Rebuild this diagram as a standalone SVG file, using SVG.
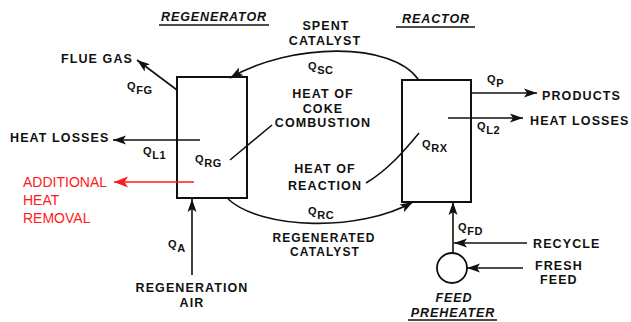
<svg xmlns="http://www.w3.org/2000/svg" width="631" height="322" viewBox="0 0 631 322">
<style>
.t{font-family:"Liberation Sans",Arial,sans-serif;font-weight:bold;font-size:12.5px;letter-spacing:1.1px;fill:#111}
.ti{font-family:"Liberation Sans",Arial,sans-serif;font-weight:bold;font-style:italic;font-size:12.5px;letter-spacing:0.9px;fill:#111}
.q{font-family:"Liberation Sans",Arial,sans-serif;font-weight:bold;font-size:11px;letter-spacing:0.6px;fill:#111}
.r{font-family:"Liberation Sans",Arial,sans-serif;font-size:14px;fill:#ff1a1a}
.box{fill:#fff;stroke:#111;stroke-width:2}
.ln{fill:none;stroke:#111;stroke-width:1.6}
.ar{fill:none;stroke:#111;stroke-width:1.6;marker-end:url(#ah)}
.ul{stroke:#111;stroke-width:1.6}
</style>
<defs>
<marker id="ah" markerUnits="userSpaceOnUse" markerWidth="14" markerHeight="10" refX="13" refY="5" orient="auto">
<path d="M0,0.5 L13,5 L0,9.5 L3,5 Z" fill="#111"/>
</marker>
<marker id="ahr" markerUnits="userSpaceOnUse" markerWidth="15" markerHeight="12" refX="14" refY="6" orient="auto">
<path d="M0,0.5 L14,6 L0,11.5 L3.5,6 Z" fill="#ff1a1a"/>
</marker>
</defs>

<g id="titles">
<text class="ti" x="214" y="21" text-anchor="middle">REGENERATOR</text>
<line class="ul" x1="159" y1="25" x2="269" y2="25"/>
<text class="ti" x="436" y="23" text-anchor="middle">REACTOR</text>
<line class="ul" x1="396" y1="27" x2="475" y2="27"/>
</g>

<g id="regenerator">
<rect class="box" x="177" y="77" width="70" height="121"/>
<text class="q" x="195" y="163">Q<tspan dy="4">RG</tspan></text>
</g>

<g id="reactor">
<rect class="box" x="402" y="80" width="69" height="122"/>
<text class="q" x="422" y="148">Q<tspan dy="4">RX</tspan></text>
</g>

<g id="feed-preheater">
<circle cx="452" cy="268" r="15" fill="#fff" stroke="#111" stroke-width="1.8"/>
<text class="ti" x="454" y="302" text-anchor="middle">FEED</text>
<text class="ti" x="453" y="317" text-anchor="middle">PREHEATER</text>
<line class="ul" x1="408" y1="320" x2="497" y2="320"/>
</g>

<g id="connectors">
<path class="ar" d="M418,79 C392,42 292,42 230,78"/>
<path class="ar" d="M228,199 C262,230 360,232 413,202"/>
<line class="ar" x1="177" y1="90" x2="137" y2="60"/>
<line class="ar" x1="200" y1="140" x2="113" y2="140"/>
<line x1="194" y1="182" x2="114" y2="182" stroke="#ff1a1a" stroke-width="1.6" marker-end="url(#ahr)"/>
<line class="ar" x1="192" y1="275" x2="192" y2="199"/>
<line class="ar" x1="471" y1="93" x2="537" y2="93"/>
<line class="ar" x1="448" y1="118" x2="523" y2="118"/>
<line class="ar" x1="453" y1="253" x2="453" y2="202"/>
<line class="ar" x1="527" y1="243" x2="454" y2="243"/>
<line class="ar" x1="523" y1="268" x2="467" y2="268"/>
<line class="ln" x1="230" y1="160" x2="272" y2="125"/>
<path class="ln" d="M366,183 C388,170 405,150 419,133"/>
</g>

<g id="labels">
<text class="t" x="326" y="30" text-anchor="middle">SPENT</text>
<text class="t" x="325" y="45" text-anchor="middle">CATALYST</text>
<text class="q" x="308" y="70">Q<tspan dy="4">SC</tspan></text>
<text class="t" x="323" y="98" text-anchor="middle">HEAT OF</text>
<text class="t" x="323" y="113" text-anchor="middle">COKE</text>
<text class="t" x="323" y="127" text-anchor="middle">COMBUSTION</text>
<text class="t" x="325" y="173" text-anchor="middle">HEAT OF</text>
<text class="t" x="325" y="190" text-anchor="middle">REACTION</text>
<text class="q" x="308" y="215">Q<tspan dy="4">RC</tspan></text>
<text class="t" x="324" y="242" text-anchor="middle" style="font-size:12px">REGENERATED</text>
<text class="t" x="325" y="256" text-anchor="middle" style="font-size:12px">CATALYST</text>
<text class="t" x="133" y="63" text-anchor="end">FLUE GAS</text>
<text class="q" x="127" y="90">Q<tspan dy="4">FG</tspan></text>
<text class="t" x="10" y="142">HEAT LOSSES</text>
<text class="q" x="143" y="155">Q<tspan dy="4">L1</tspan></text>
<text class="r" x="23" y="187">ADDITIONAL</text>
<text class="r" x="23" y="205">HEAT</text>
<text class="r" x="23" y="223">REMOVAL</text>
<text class="q" x="168" y="248">Q<tspan dy="4">A</tspan></text>
<text class="t" x="192" y="292" text-anchor="middle">REGENERATION</text>
<text class="t" x="192" y="307" text-anchor="middle">AIR</text>
<text class="q" x="487" y="83">Q<tspan dy="4">P</tspan></text>
<text class="t" x="542" y="100">PRODUCTS</text>
<text class="q" x="477" y="130">Q<tspan dy="4">L2</tspan></text>
<text class="t" x="530" y="125">HEAT LOSSES</text>
<text class="q" x="458" y="231">Q<tspan dy="4">FD</tspan></text>
<text class="t" x="533" y="248">RECYCLE</text>
<text class="t" x="535" y="270">FRESH</text>
<text class="t" x="540" y="284">FEED</text>
</g>
</svg>
